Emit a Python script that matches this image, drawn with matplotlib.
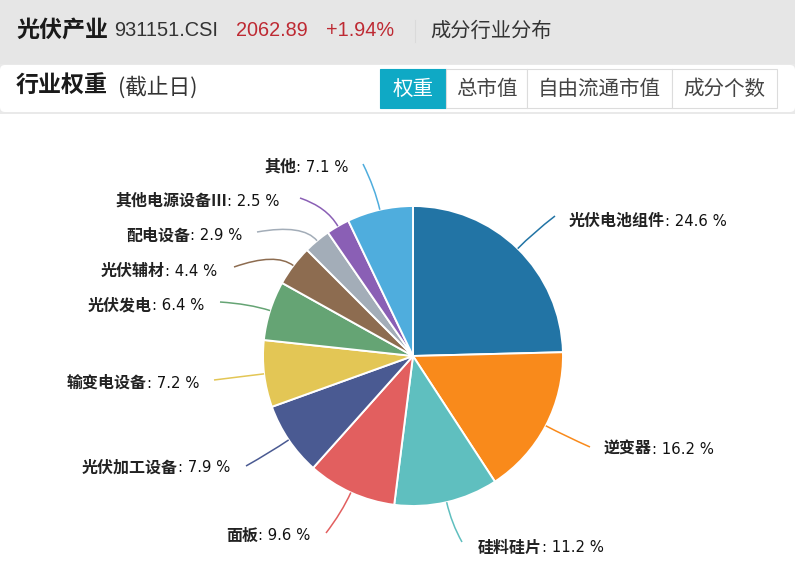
import matplotlib
matplotlib.use("Agg")
import numpy as np
import matplotlib.pyplot as plt
from matplotlib.patches import Rectangle, FancyBboxPatch, PathPatch
from matplotlib.path import Path

plt.rcParams['font.family'] = ['Noto Sans CJK SC', 'DejaVu Sans']

categories = ['光伏电池组件', '逆变器', '硅料硅片', '面板', '光伏加工设备', '输变电设备',
              '光伏发电', '光伏辅材', '配电设备', '其他电源设备Ⅲ', '其他']
values = [24.6, 16.2, 11.2, 9.6, 7.9, 7.2, 6.4, 4.4, 2.9, 2.5, 7.1]
colors = ['#2274A5', '#F98A1B', '#5FBFBF', '#E25F5F', '#4A5A92', '#E3C655',
          '#65A474', '#8D6C50', '#A3ADB8', '#8A5FB5', '#4FADDD']
tabs = ['权重', '总市值', '自由流通市值', '成分个数']
label_x = [569, 604, 478, 226, 82, 67, 88, 101, 126, 115, 264]
label_y = [221, 449, 548, 536, 468, 383, 306, 271, 236, 201, 167]
line_end = [(555, 216), (590, 447), (462, 542), (326, 533), (246, 466), (214, 380),
            (220, 302), (234, 267), (257, 232), (300, 198), (363, 164)]

W, H = 795, 584
fig = plt.figure(figsize=(W / 100, H / 100), dpi=100)
ax = fig.add_axes([0, 0, 1, 1])

ax.add_patch(Rectangle((0, 0), W, 64, fc='#E6E6E6', ec='none', zorder=0))
ax.add_patch(Rectangle((0, 64), W, 50, fc='#E9E9E9', ec='none', zorder=0))
ax.add_patch(FancyBboxPatch((0, 65), W, 47, boxstyle='round,pad=0,rounding_size=5', fc='white', ec='none', zorder=1))
ax.add_patch(Rectangle((0, 114), W, H - 114, fc='white', ec='none', zorder=0))

ax.text(16, 30, '光伏产业', fontsize=16.6, fontweight='bold', color='#1A1A1A', va='center')
ax.text(114, 30.5, '931151.CSI', fontsize=14.4, color='#333333', va='center', family=['Liberation Sans'])
ax.text(236, 30.5, '2062.89', fontsize=14.3, color='#BE2A33', va='center', family=['Liberation Sans'])
ax.text(326, 30.5, '+1.94%', fontsize=14.3, color='#BE2A33', va='center', family=['Liberation Sans'])
ax.plot([415, 415], [20, 42], color='#DADADA', lw=0.8, zorder=2)
ax.text(430, 31, '成分行业分布', fontsize=14.6, color='#333333', va='center')
ax.text(16, 86, '行业权重', fontsize=16.6, fontweight='bold', color='#1A1A1A', va='center')
ax.text(118, 87.5, '(截止日)', fontsize=15.6, color='#333333', va='center')

edges = [380, 446, 527, 672, 777]
for i, t in enumerate(tabs):
    x0, x1 = edges[i], edges[i + 1]
    active = i == 0
    ax.add_patch(Rectangle((x0, 69), x1 - x0, 39, fc='#0FA9C5' if active else 'white',
                           ec='#0FA9C5' if active else '#DCDCDC', lw=0.8, zorder=2))
    ax.text((x0 + x1) / 2, 89, t, fontsize=14.8, color='white' if active else '#444444',
            ha='center', va='center', zorder=3)

cx, cy, r = 413, 356, 150
# y axis is inverted below, so counterclock=True reads clockwise on screen
ax.pie(values, colors=colors, startangle=-90, counterclock=True, center=(cx, cy),
       radius=r, wedgeprops=dict(edgecolor='white', linewidth=1.4), frame=True)
ax.set_xlim(0, W)
ax.set_ylim(H, 0)
ax.set_aspect('equal')
ax.axis('off')

renderer = fig.canvas.get_renderer()
inv = ax.transData.inverted()
total = sum(values)
cum = 0
for i, v in enumerate(values):
    mid = (cum + v / 2) / total * 2 * np.pi
    cum += v
    dx, dy = np.sin(mid), -np.cos(mid)
    p0 = (cx + r * dx, cy + r * dy)
    p1 = (cx + (r + 22) * dx, cy + (r + 22) * dy)
    ax.add_patch(PathPatch(Path([p0, p1, line_end[i]], [Path.MOVETO, Path.CURVE3, Path.CURVE3]),
                           fc='none', ec=colors[i], lw=1.1, zorder=4))
    t = ax.text(label_x[i], label_y[i], categories[i], fontsize=11.5, fontweight='bold',
                color='#222222', va='center', zorder=5)
    x_end = inv.transform(t.get_window_extent(renderer).get_points())[1, 0]
    ax.text(x_end, label_y[i], f': {v} %', fontsize=10.7, color='#111111', va='center', zorder=5,
            family=['DejaVu Sans'])

fig.savefig('out.png', dpi=100)
